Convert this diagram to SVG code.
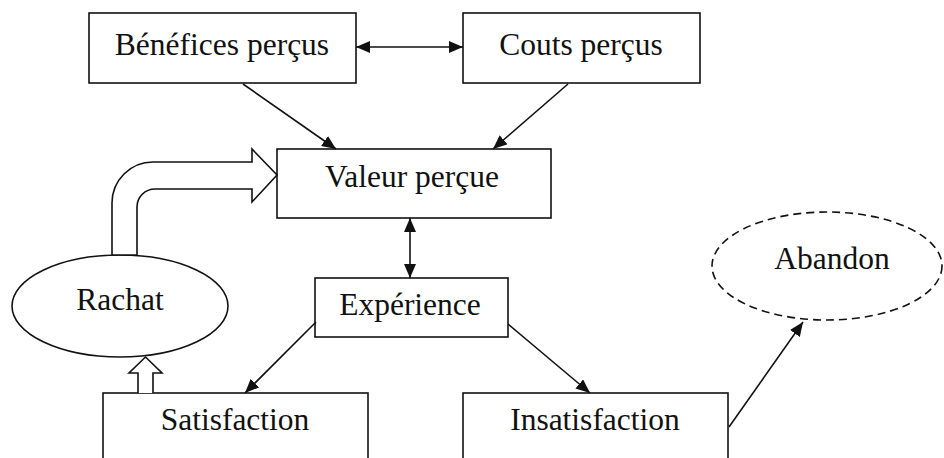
<svg xmlns="http://www.w3.org/2000/svg" width="944" height="458" viewBox="0 0 944 458">
  <style>
    .box { fill: #fff; stroke: #111; stroke-width: 1.6; }
    .lbl { font-family: "Liberation Serif", "DejaVu Serif", "Times New Roman", serif; font-size: 31.5px; fill: #111; text-anchor: middle; }
    .link { stroke: #111; stroke-width: 1.6; fill: none; }
    .fat { fill: #fff; stroke: #111; stroke-width: 1.6; stroke-linejoin: miter; }
  </style>
  <defs>
    <marker id="head" viewBox="0 0 14 12" refX="14" refY="6" markerWidth="14" markerHeight="12" markerUnits="userSpaceOnUse" orient="auto-start-reverse">
      <path d="M0,0 L14,6 L0,12 Z" fill="#111"/>
    </marker>
  </defs>
  <rect width="944" height="458" fill="#fff"/>

  <g id="node-benefices">
    <rect class="box" x="89" y="13" width="267" height="70"/>
    <text class="lbl" x="222" y="55" font-family="Liberation Serif, serif">Bénéfices perçus</text>
  </g>
  <g id="node-couts">
    <rect class="box" x="463" y="13" width="237" height="70"/>
    <text class="lbl" x="581" y="55">Couts perçus</text>
  </g>
  <g id="node-valeur">
    <rect class="box" x="277" y="149" width="274" height="69"/>
    <text class="lbl" x="412" y="187">Valeur perçue</text>
  </g>
  <g id="node-experience">
    <rect class="box" x="315" y="278" width="193" height="59"/>
    <text class="lbl" x="410" y="315">Expérience</text>
  </g>
  <g id="node-rachat">
    <ellipse class="box" cx="120" cy="306" rx="108" ry="51"/>
    <text class="lbl" x="120" y="310">Rachat</text>
  </g>
  <g id="node-satisfaction">
    <rect class="box" x="103" y="393" width="265" height="80"/>
    <text class="lbl" x="235" y="430">Satisfaction</text>
  </g>
  <g id="node-insatisfaction">
    <rect class="box" x="463" y="393" width="265" height="80"/>
    <text class="lbl" x="595" y="430">Insatisfaction</text>
  </g>
  <g id="node-abandon">
    <ellipse cx="827" cy="266" rx="115" ry="54" fill="#fff" stroke="#111" stroke-width="1.6" stroke-dasharray="8,5"/>
    <text class="lbl" x="832" y="269">Abandon</text>
  </g>

  <g id="connectors">
    <line class="link" x1="356" y1="47" x2="463" y2="47" marker-start="url(#head)" marker-end="url(#head)"/>
    <line class="link" x1="243" y1="84" x2="336" y2="149" marker-end="url(#head)"/>
    <line class="link" x1="568" y1="84" x2="493" y2="149" marker-end="url(#head)"/>
    <line class="link" x1="410" y1="218" x2="410" y2="278" marker-start="url(#head)" marker-end="url(#head)"/>
    <line class="link" x1="316" y1="322" x2="245" y2="393" marker-end="url(#head)"/>
    <line class="link" x1="508" y1="324" x2="590" y2="393" marker-end="url(#head)"/>
    <line class="link" x1="729" y1="427" x2="803" y2="322" marker-end="url(#head)"/>
    <!-- curved block arrow from Rachat into Valeur perçue -->
    <path class="fat" d="M112,255 L112,203 A41,41 0 0 1 153,162 L252,162 L252,149 L277,175 L252,202 L252,189 L155,189 A18,18 0 0 0 137,207 L137,255 Z"/>
    <!-- small hollow arrow from Satisfaction up to Rachat -->
    <path class="fat" d="M138,393 L138,373 L129,373 L145.5,357 L162,373 L153,373 L153,393"/>
  </g>
</svg>
